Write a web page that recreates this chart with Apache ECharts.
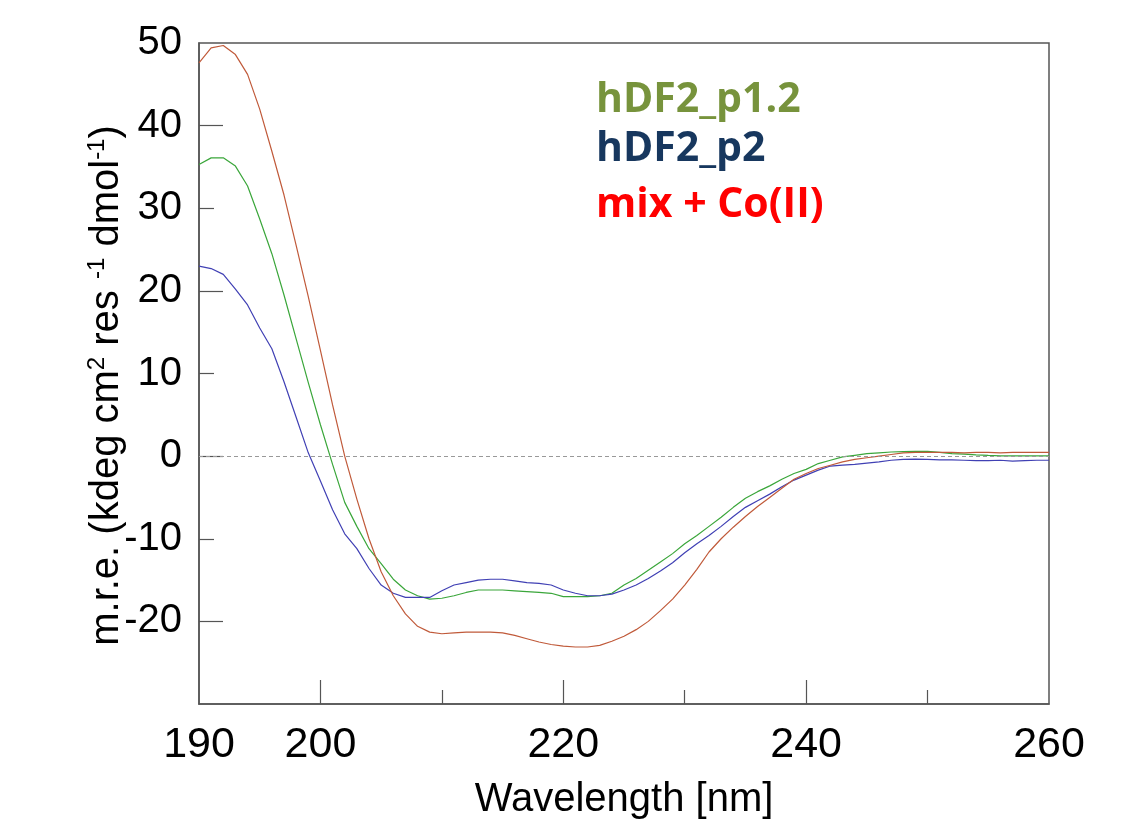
<!DOCTYPE html>
<html><head><meta charset="utf-8">
<script src="https://cdn.jsdelivr.net/npm/echarts@6/dist/echarts.min.js"></script>
<style>html,body{margin:0;padding:0;background:#fff}#c{width:1137px;height:831px}</style>
</head><body><div id="c"></div>
<script>
const wavelength = [190,191,192,193,194,195,196,197,198,199,200,201,202,203,204,205,206,207,208,209,210,211,212,213,214,215,216,217,218,219,220,221,222,223,224,225,226,227,228,229,230,231,232,233,234,235,236,237,238,239,240,241,242,243,244,245,246,247,248,249,250,251,252,253,254,255,256,257,258,259,260];
const p12 = [35.3,36.1,36.1,35.1,32.7,28.7,24.5,19.5,14.2,8.9,3.8,-1.0,-5.6,-8.5,-11.2,-13.0,-14.9,-16.2,-16.9,-17.3,-17.2,-16.9,-16.5,-16.2,-16.2,-16.2,-16.3,-16.4,-16.5,-16.6,-17.0,-17.0,-17.0,-16.9,-16.6,-15.6,-14.8,-13.8,-12.8,-11.8,-10.6,-9.6,-8.5,-7.4,-6.2,-5.1,-4.3,-3.6,-2.8,-2.1,-1.6,-0.9,-0.5,-0.1,0.1,0.3,0.4,0.5,0.55,0.57,0.57,0.45,0.3,0.24,0.15,0.08,0.04,0.04,0.04,0.04,0.04];
const p2 = [23.0,22.7,22.0,20.2,18.3,15.5,13.0,9.0,4.7,0.4,-3.0,-6.5,-9.4,-11.2,-13.6,-15.6,-16.6,-17.1,-17.1,-17.1,-16.3,-15.6,-15.3,-15.0,-14.9,-14.9,-15.1,-15.3,-15.4,-15.6,-16.2,-16.6,-16.9,-16.9,-16.7,-16.2,-15.6,-14.8,-13.9,-12.9,-11.7,-10.6,-9.6,-8.5,-7.3,-6.2,-5.4,-4.6,-3.7,-2.9,-2.3,-1.7,-1.2,-1.1,-1.0,-0.85,-0.7,-0.5,-0.4,-0.36,-0.4,-0.45,-0.45,-0.5,-0.55,-0.55,-0.5,-0.6,-0.55,-0.5,-0.5];
const mixCo = [47.6,49.4,49.7,48.6,46.2,42.0,36.9,31.6,25.5,19.3,12.8,6.2,0.0,-5.2,-10.0,-14.0,-16.9,-19.1,-20.6,-21.3,-21.5,-21.4,-21.3,-21.3,-21.3,-21.4,-21.7,-22.1,-22.5,-22.8,-23.0,-23.1,-23.1,-22.9,-22.4,-21.8,-21.0,-20.0,-18.7,-17.3,-15.6,-13.7,-11.6,-10.0,-8.6,-7.3,-6.1,-5.0,-3.9,-2.8,-2.1,-1.5,-1.1,-0.7,-0.4,-0.2,0.0,0.2,0.4,0.45,0.45,0.45,0.45,0.4,0.45,0.45,0.4,0.45,0.45,0.45,0.45];
const seriesNames = ['hDF2_p1.2', 'hDF2_p2', 'mix + Co(II)'];
const xLabelValues = [190, 200, 220, 240, 260];
const xMajorTicks = [200, 220, 240];
const xMinorTicks = [210, 230, 250];
const yLabelValues = [50, 40, 30, 20, 10, 0, -10, -20];
const yMajorTicks = [40, 20, 0, -20];
const yMinorTicks = [30, 10, -10];

const pairs = v => wavelength.map((w, i) => [w, v[i]]);
const axisColor = '#555';
const numFont = 'Liberation Sans';

const chart = echarts.init(document.getElementById('c'), null, {renderer: 'canvas'});
const legendFont = {fontSize: 41, fontWeight: 'bold', fontFamily: 'Open Sans'};
const mkLegend = (name, color, top) => ({
  data: [{name: name, textStyle: Object.assign({color: color}, legendFont)}],
  left: 586, top: top, itemWidth: 0, itemHeight: 0, selectedMode: false,
  icon: 'rect', textStyle: legendFont
});

chart.setOption({
  animation: false,
  backgroundColor: '#fff',
  grid: {left: 199, right: 88, top: 43, bottom: 127, show: true, borderColor: axisColor, borderWidth: 1.5, backgroundColor: 'transparent'},
  legend: [
    mkLegend(seriesNames[0], '#77933C', 75),
    mkLegend(seriesNames[1], '#17375E', 124),
    mkLegend(seriesNames[2], '#FF0000', 180)
  ],
  xAxis: [{
    type: 'value', min: 190, max: 260, interval: 10, position: 'bottom',
    name: 'Wavelength [nm]', nameLocation: 'middle', nameGap: 76, nameMoveOverlap: false,
    nameTextStyle: {fontSize: 40, color: '#000', fontFamily: numFont},
    axisLine: {show: true, onZero: false, lineStyle: {color: axisColor, width: 1.5}},
    axisTick: {show: true, inside: true, length: 24, customValues: xMajorTicks, lineStyle: {color: axisColor, width: 1.2}},
    axisLabel: {customValues: xLabelValues, fontSize: 43, color: '#000', fontFamily: numFont, margin: 20},
    splitLine: {show: false}
  }, {
    type: 'value', min: 190, max: 260, interval: 10, position: 'bottom', gridIndex: 0,
    axisLine: {show: false, onZero: false},
    axisTick: {show: true, inside: true, length: 14, customValues: xMinorTicks, lineStyle: {color: axisColor, width: 1.2}},
    axisLabel: {show: false},
    splitLine: {show: false}
  }],
  yAxis: [{
    type: 'value', min: -30, max: 50, interval: 10, position: 'left',
    name: '{n|m.r.e. (kdeg cm}{s|2}{n| res }{s|-1}{n| dmol}{s|-1}{n|)}',
    nameLocation: 'middle', nameRotate: 90, nameGap: 70, nameMoveOverlap: false,
    nameTextStyle: {
      padding: [0, 24, 0, 0],
      rich: {
        n: {fontSize: 40, color: '#000', fontFamily: numFont, lineHeight: 44},
        s: {fontSize: 24, color: '#000', fontFamily: numFont, lineHeight: 26, verticalAlign: 'top'}
      }
    },
    axisLine: {show: true, onZero: false, lineStyle: {color: axisColor, width: 1.5}},
    axisTick: {show: true, inside: true, length: 24, customValues: yMajorTicks, lineStyle: {color: axisColor, width: 1.2}},
    axisLabel: {customValues: yLabelValues, fontSize: 40, color: '#000', fontFamily: numFont, margin: 17},
    splitLine: {show: false}
  }, {
    type: 'value', min: -30, max: 50, interval: 10, position: 'left', gridIndex: 0,
    axisLine: {show: false, onZero: false},
    axisTick: {show: true, inside: true, length: 15, customValues: yMinorTicks, lineStyle: {color: axisColor, width: 1.2}},
    axisLabel: {show: false},
    splitLine: {show: false}
  }],
  series: [{
    name: seriesNames[0], type: 'line', data: pairs(p12), showSymbol: false, symbol: 'none',
    lineStyle: {color: '#3aa63a', width: 1.2}, itemStyle: {color: '#3aa63a'},
    markLine: {silent: true, symbol: ['none', 'none'], label: {show: false},
      lineStyle: {color: '#999', type: [4, 3], width: 1}, data: [{yAxis: 0}]}
  }, {
    name: seriesNames[1], type: 'line', data: pairs(p2), showSymbol: false, symbol: 'none',
    lineStyle: {color: '#4040b4', width: 1.2}, itemStyle: {color: '#4040b4'}
  }, {
    name: seriesNames[2], type: 'line', data: pairs(mixCo), showSymbol: false, symbol: 'none',
    lineStyle: {color: '#c05a3a', width: 1.2}, itemStyle: {color: '#c05a3a'}
  }]
});
</script>
</body></html>
